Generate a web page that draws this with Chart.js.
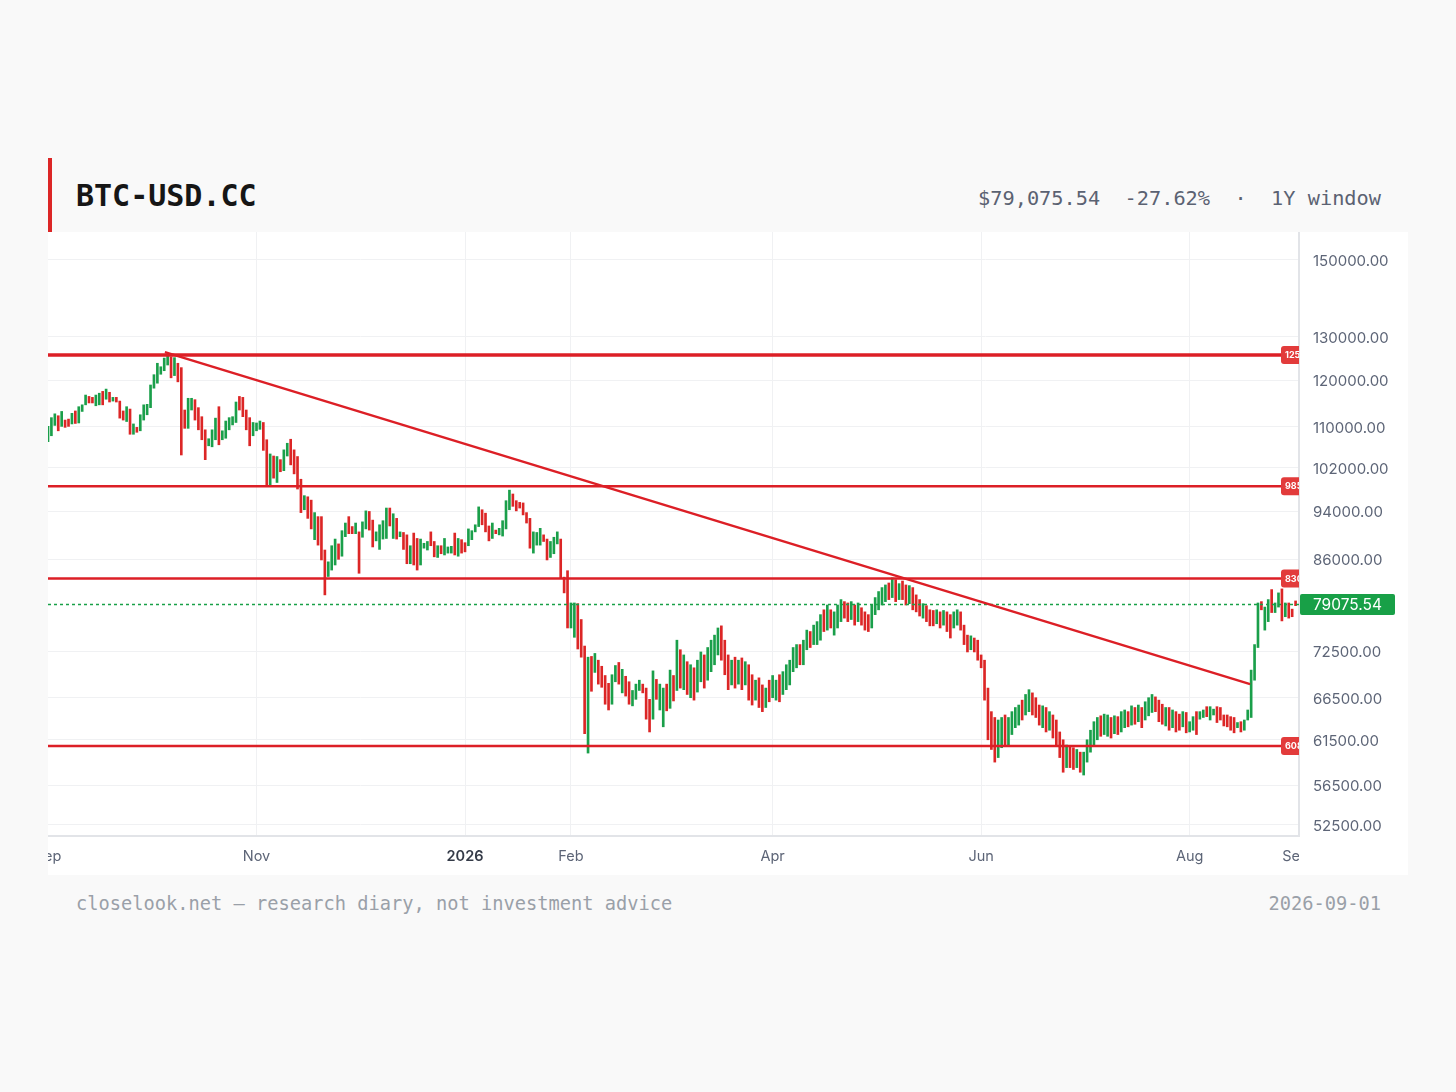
<!DOCTYPE html>
<html>
<head>
<meta charset="utf-8">
<title>BTC-USD.CC</title>
<script src="https://cdn.jsdelivr.net/npm/chart.js@4.4.1/dist/chart.umd.min.js"></script>
<style>
  html, body { margin: 0; padding: 0; background: #f9f9f9; }
  body { width: 1456px; height: 1092px; position: relative; overflow: hidden; }
  #accent { position: absolute; left: 48px; top: 158px; width: 4px; height: 74px; background: #dc2626; }
  #title { position: absolute; left: 76px; top: 181px; font: bold 30px/1 "DejaVu Sans Mono", monospace; color: #161616; }
  #meta { position: absolute; right: 75px; top: 188px; font: 20.3px/1 "DejaVu Sans Mono", monospace; color: #5b6272; white-space: pre; }
  #panel { position: absolute; left: 48px; top: 232px; width: 1360px; height: 643px; background: #fff; }
  #foot { position: absolute; left: 76px; top: 895px; font: 18.7px/1 "DejaVu Sans Mono", monospace; color: #9aa0a8; }
  #date { position: absolute; right: 75px; top: 895px; font: 18.7px/1 "DejaVu Sans Mono", monospace; color: #9aa0a8; }
</style>
</head>
<body>
<div id="accent"></div>
<div id="title">BTC-USD.CC</div>
<div id="meta">$79,075.54  -27.62%  ·  1Y window</div>
<div id="panel"><canvas id="chart" width="1360" height="643"></canvas></div>
<div id="foot">closelook.net — research diary, not investment advice</div>
<div id="date">2026-09-01</div>

<script>
// daily bars, day 0 = 2025-09-01, prices in thousands of USD
const highs = [110.1,111.9,112.7,112.3,113.2,111.4,111.6,112.8,113.3,114.2,
  114.6,116.7,116.4,116.2,116.7,117.1,117.5,118.0,117.3,116.2,
  116.2,115.4,113.3,114.2,113.7,110.6,109.9,112.5,114.6,114.7,
  118.9,121.2,123.8,123.0,125.0,125.7,125.3,125.1,123.8,122.8,
  113.5,116.0,116.0,115.7,114.0,112.1,109.4,107.6,109.4,111.8,
  114.2,109.2,111.2,111.9,112.1,115.2,116.4,116.2,113.5,111.9,
  110.9,110.8,111.2,110.9,107.4,104.6,104.2,104.1,103.5,105.4,
  106.7,107.5,105.4,104.1,99.8,96.8,96.6,96.0,93.8,93.1,
  93.1,87.5,85.6,88.2,89.3,88.5,90.7,92.0,93.1,91.4,
  92.0,90.5,92.2,94.1,94.0,92.5,90.5,91.7,92.4,94.6,
  94.6,93.6,92.8,90.5,90.4,90.0,88.2,90.3,89.4,89.3,
  88.6,88.9,90.5,88.9,88.2,88.2,89.4,88.0,88.1,90.3,
  89.4,89.2,88.7,91.0,90.7,91.7,94.8,94.3,93.7,91.5,
  92.0,90.8,91.1,92.4,95.9,97.8,97.1,95.9,95.6,95.5,
  93.8,92.8,90.5,90.4,91.1,90.0,89.3,88.9,89.6,90.5,
  89.3,83.2,84.2,79.3,79.3,79.2,76.9,73.2,71.7,71.8,
  72.2,71.3,70.5,69.3,68.3,69.4,70.6,71.0,70.1,69.2,
  68.5,67.4,68.2,68.7,68.2,67.7,66.3,69.9,68.8,68.2,
  67.7,68.2,70.0,69.3,74.0,72.7,72.0,71.1,70.7,70.3,
  71.3,72.4,72.0,73.0,74.0,74.7,75.7,76.0,74.0,72.0,
  71.3,71.7,71.3,71.6,71.1,70.7,69.4,68.7,69.0,68.1,
  67.7,68.7,69.3,68.7,69.4,69.8,70.7,71.3,73.0,73.4,
  73.4,74.0,75.4,75.2,76.1,76.6,77.6,78.3,79.0,78.3,
  78.0,79.0,79.8,79.5,79.3,79.5,79.0,79.3,78.6,78.0,
  77.6,79.0,80.1,81.0,81.6,82.0,82.3,83.1,82.8,82.2,
  82.6,82.0,81.9,81.6,80.5,79.8,79.2,78.9,78.3,78.2,
  78.3,78.0,78.2,78.0,77.6,78.0,78.3,78.0,76.1,74.7,
  74.6,74.3,74.0,72.0,71.3,67.7,64.8,64.1,63.8,64.1,
  64.4,64.1,64.8,65.3,65.6,66.2,66.9,67.5,67.1,66.5,
  65.6,65.5,65.3,64.8,64.4,63.8,62.4,61.5,60.9,60.8,
  60.6,60.4,60.1,60.1,61.5,62.6,63.6,64.1,64.3,64.5,
  64.4,64.1,64.3,64.2,64.8,65.0,64.8,65.5,65.3,65.6,
  65.3,66.0,66.5,66.9,66.6,66.2,65.7,65.3,65.3,65.0,
  64.8,64.5,64.8,64.7,63.6,64.2,64.8,64.8,65.0,65.4,
  65.4,65.1,65.4,65.3,64.4,64.4,64.2,64.1,63.5,63.6,
  63.8,65.0,70.0,73.4,79.3,79.5,78.7,79.8,81.3,79.3,
  80.8,81.4,79.3,79.3,78.4,79.6];
const lows = [107.0,108.2,110.3,109.2,110.1,109.9,110.1,110.6,110.7,110.8,
  113.2,114.6,115.0,115.0,114.4,114.6,114.6,115.8,115.2,115.4,
  115.2,111.8,111.4,111.1,108.5,108.5,108.9,109.2,111.4,112.5,
  114.0,118.2,119.3,121.3,122.1,123.4,120.5,121.0,119.6,104.4,
  109.7,109.7,113.5,111.4,109.4,107.4,103.5,106.2,106.0,107.4,
  106.4,107.4,107.7,109.4,110.4,110.9,113.5,112.1,109.4,106.2,
  108.2,109.2,109.5,105.3,98.8,98.8,100.0,99.2,101.2,101.4,
  104.2,102.5,100.8,98.0,93.8,94.3,92.8,91.0,89.2,88.3,
  85.9,80.5,83.3,84.3,85.1,86.0,86.5,89.7,90.2,90.2,
  90.2,83.8,89.6,91.0,90.8,88.0,89.0,87.6,89.3,89.4,
  91.5,89.4,89.3,89.7,87.6,85.3,85.3,85.1,84.3,85.1,
  87.8,87.5,88.2,86.4,86.3,86.9,86.7,87.0,87.0,86.7,
  86.5,87.0,87.2,88.2,89.2,90.5,91.4,91.7,90.5,89.0,
  89.4,90.2,90.0,89.8,91.0,94.3,94.9,94.1,94.6,93.4,
  92.0,87.8,87.0,88.3,88.3,88.9,85.9,86.3,86.9,88.5,
  83.0,80.8,75.7,75.7,74.4,72.8,71.7,62.2,60.0,67.3,
  69.7,68.2,67.8,65.7,65.0,65.7,68.5,68.2,67.1,66.7,
  65.7,65.5,66.3,67.4,67.1,63.9,62.4,63.9,66.3,65.0,
  63.0,64.9,65.2,66.1,67.4,67.7,67.5,66.9,66.5,66.2,
  67.2,68.5,67.7,68.7,69.8,70.7,72.0,71.3,69.4,67.5,
  68.1,67.7,68.2,67.5,68.1,66.2,65.6,66.2,65.3,64.8,
  65.3,66.0,66.5,66.2,66.0,66.9,67.5,68.1,69.8,70.3,
  70.7,70.7,72.7,73.0,73.4,73.4,74.0,75.2,75.4,75.7,
  74.7,75.7,76.6,77.1,76.6,76.9,76.1,76.6,76.1,75.4,
  75.2,75.7,77.6,78.3,79.0,79.5,79.8,80.1,79.5,79.8,
  79.8,79.0,79.2,78.3,78.0,77.4,77.1,76.6,76.0,76.0,
  76.3,75.7,76.1,75.2,74.3,75.7,76.1,75.4,73.4,72.4,
  72.7,72.4,71.3,70.3,66.2,61.5,60.4,59.0,59.5,60.6,
  60.9,60.9,62.1,62.9,63.2,63.8,64.4,64.8,64.4,64.1,
  63.2,62.9,62.4,62.6,61.7,60.9,59.5,57.9,58.4,58.4,
  58.2,58.4,57.9,57.6,59.0,60.1,60.9,61.5,61.9,62.1,
  61.9,61.7,62.2,62.1,62.4,62.9,63.0,63.2,63.3,63.6,
  62.9,63.8,64.3,64.7,64.8,63.6,63.3,63.1,62.6,62.9,
  62.4,62.6,63.0,62.3,62.4,62.6,62.1,63.9,64.1,64.2,
  63.8,64.4,63.5,63.8,63.1,63.0,62.6,62.3,62.9,62.4,
  62.6,63.8,64.1,68.7,73.0,78.3,75.4,76.6,77.9,77.9,
  78.7,76.7,77.3,77.1,77.3,78.9];
// 1 = closed up (green), 0 = closed down (red)
const upBars = [1,1,1,0,1,0,0,1,0,1, 1,1,0,0,1,1,0,1,0,1, 0,0,0,1,0,1,0,1,1,1,
  1,1,1,1,1,1,0,1,0,0, 0,1,1,0,0,0,0,1,1,1, 0,1,1,1,1,1,0,0,0,0,
  1,1,1,0,0,1,0,1,0,1, 1,0,0,0,0,1,0,0,1,0, 0,0,1,1,1,0,1,1,0,0,
  1,0,1,1,0,0,1,1,1,1, 0,1,0,1,0,0,1,0,0,1, 1,1,0,0,1,0,1,1,1,0,
  1,0,0,1,1,1,1,0,0,0, 1,0,1,1,1,1,0,0,0,0, 0,0,1,1,1,0,0,1,1,1,
  0,0,0,1,1,0,0,0,1,0, 1,0,0,0,0,1,1,0,1,0, 0,1,1,1,0,0,0,1,0,1,
  1,0,1,0,1,0,1,0,1,0, 1,1,0,1,1,1,1,0,0,0, 1,0,1,0,1,0,0,1,0,0,
  1,0,1,1,0,1,1,1,1,1, 0,1,1,0,1,1,1,0,1,0, 1,1,1,0,0,1,0,1,0,0,
  0,1,1,1,1,1,0,1,0,1, 0,0,1,0,0,0,1,0,0,0, 1,0,1,0,0,1,1,0,0,0,
  1,0,0,0,0,0,0,0,1,1, 0,1,1,1,1,0,1,1,0,0, 0,1,0,1,0,0,0,0,1,0,
  0,1,0,1,1,1,1,1,0,1, 1,0,1,0,1,1,0,1,0,1, 0,1,1,1,0,0,0,1,0,1,
  0,0,1,0,1,1,0,1,1,0, 1,1,0,0,0,0,0,0,1,0, 1,1,1,1,1,0,1,1,0,1,
  1,0,1,0,0,0];

const yTicks = [150, 130, 120, 110, 102, 94, 86, 72.5, 66.5, 61.5, 56.5, 52.5];
const gridDays = [61, 122, 153, 212, 273, 334];
const labelDays = [0, 61, 122, 153, 212, 273, 334, 365];
const labelNames = ['Sep', 'Nov', '2026', 'Feb', 'Apr', 'Jun', 'Aug', 'Sep'];
const levels = [125.7, 98.5, 83.0, 60.8];
const levelWidths = [3.5, 2.5, 2.5, 2.5];
const trendDays = [34.2, 351.7];
const trendPrices = [126.4, 68.2];
const lastPrice = 79.07554;

const UP = '#1a9f4a', DOWN = '#dc2626', LINE = '#dc1f26';

const bars = [];
const barColors = [];
highs.forEach((h, i) => {
  bars.push({ x: i, y: [lows[i], h] });
  barColors.push(upBars[i] ? UP : DOWN);
});

const levelSets = levels.map((v, i) => ({
  type: 'line', order: 1,
  data: [{ x: 0, y: v }, { x: 366, y: v }],
  borderColor: LINE, borderWidth: levelWidths[i], pointRadius: 0
}));

const overlay = {
  id: 'overlay',
  afterDraw(chart) {
    const { ctx, chartArea: a, scales: { x, y } } = chart;
    ctx.save();
    ctx.beginPath();
    ctx.rect(a.left, a.top, a.right - a.left, a.bottom - a.top);
    ctx.clip();
    levels.forEach(v => {
      const py = y.getPixelForValue(v);
      ctx.fillStyle = '#e23b3b';
      ctx.beginPath();
      ctx.roundRect(a.right - 18, py - 9, 60, 18, 3);
      ctx.fill();
      ctx.fillStyle = '#fff';
      ctx.font = 'bold 9px Inter';
      ctx.textBaseline = 'middle';
      ctx.fillText((v * 1000).toFixed(2), a.right - 14, py + 0.5);
    });
    ctx.restore();

    // last price tag on the axis
    const py = y.getPixelForValue(lastPrice);
    ctx.save();
    ctx.fillStyle = '#18a047';
    ctx.beginPath();
    ctx.roundRect(a.right + 1, py - 10.5, 95, 21, 2);
    ctx.fill();
    ctx.fillStyle = '#fff';
    ctx.font = '15.5px Inter';
    ctx.textBaseline = 'middle';
    ctx.fillText((lastPrice * 1000).toFixed(2), a.right + 14, py + 1);
    ctx.restore();

    // month labels, clipped to the plot width
    ctx.save();
    ctx.beginPath();
    ctx.rect(a.left, a.bottom, a.right - a.left, 40);
    ctx.clip();
    ctx.textAlign = 'center';
    ctx.textBaseline = 'middle';
    labelDays.forEach((d, i) => {
      const bold = labelNames[i] === '2026';
      ctx.font = (bold ? '600 ' : '') + '14.5px Inter';
      ctx.fillStyle = bold ? '#353b48' : '#5d6577';
      ctx.fillText(labelNames[i], x.getPixelForValue(d), a.bottom + 21);
    });
    ctx.restore();
  }
};

new Chart(document.getElementById('chart'), {
  type: 'bar',
  data: {
    datasets: [
      ...levelSets,
      {
        type: 'line', order: 1,
        data: [{ x: trendDays[0], y: trendPrices[0] }, { x: trendDays[1], y: trendPrices[1] }],
        borderColor: LINE, borderWidth: 2.5, pointRadius: 0
      },
      {
        type: 'line', order: 1,
        data: [{ x: 0, y: lastPrice }, { x: 366, y: lastPrice }],
        borderColor: '#18a047', borderWidth: 1.6, borderDash: [3, 3], pointRadius: 0
      },
      {
        type: 'bar', order: 2,
        data: bars,
        backgroundColor: barColors,
        barThickness: 2,
        grouped: false
      }
    ]
  },
  options: {
    responsive: false,
    animation: false,
    layout: { padding: 0 },
    plugins: { legend: { display: false }, tooltip: { enabled: false } },
    scales: {
      x: {
        type: 'linear', min: 0, max: 366, offset: false,
        grid: { color: '#f0f1f3', lineWidth: 1, drawTicks: false, offset: false },
        border: { color: '#e2e4e8', width: 2 },
        ticks: { display: false },
        afterBuildTicks: s => { s.ticks = gridDays.map(v => ({ value: v })); },
        afterFit: s => { s.height = 39; s.paddingLeft = 0; s.paddingRight = 0; }
      },
      y: {
        type: 'logarithmic', position: 'right', min: 51.43, max: 158.0,
        grid: { color: '#f0f1f3', lineWidth: 1, drawTicks: false },
        border: { color: '#e2e4e8', width: 2 },
        ticks: {
          padding: 14, color: '#5d6577', font: { family: 'Inter', size: 15 },
          labelOffset: 1.5,
          callback: v => (v * 1000).toFixed(2)
        },
        afterBuildTicks: s => { s.ticks = yTicks.map(v => ({ value: v })); },
        afterFit: s => { s.width = 109; s.paddingTop = 0; s.paddingBottom = 0; }
      }
    }
  },
  plugins: [overlay]
});
</script>
</body>
</html>
